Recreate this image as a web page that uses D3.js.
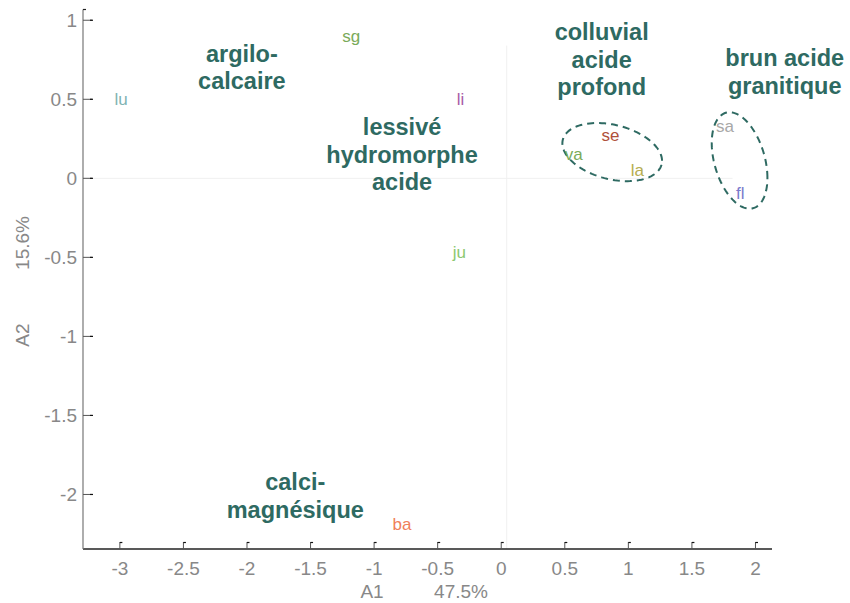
<!DOCTYPE html>
<html>
<head>
<meta charset="utf-8">
<script src="https://cdn.jsdelivr.net/npm/d3@7"></script>
<style>
  body { margin: 0; background: #fff; }
  svg { display: block; font-family: "Liberation Sans", Arial, Helvetica, sans-serif; }
</style>
</head>
<body>
<div id="chart"></div>
<script>
// sites (row scores on the two first axes)
const sites = ["lu", "sg", "li", "ju", "ba", "se", "va", "la", "sa", "fl"];
const scoreA1 = [-2.99, -1.18, -0.32, -0.33, -0.78, 0.86, 0.57, 1.07, 1.76, 1.88];
const scoreA2 = [0.50, 0.90, 0.50, -0.465, -2.19, 0.274, 0.154, 0.053, 0.33, -0.093];
const siteColors = ["#7fb3b3", "#7aaa5a", "#a85aa8", "#8cc870", "#f0805a",
                    "#b0503a", "#7aab5a", "#b5ad50", "#a8a8a8", "#7a7acc"];

// soil groups : label lines + anchor (data units)
const groupLines = [["argilo-", "calcaire"], ["lessivé", "hydromorphe", "acide"],
                    ["colluvial", "acide", "profond"], ["brun acide", "granitique"],
                    ["calci-", "magnésique"]];
const groupA1 = [-2.04, -0.78, 0.79, 2.23, -1.62];
const groupA2 = [0.79, 0.325, 0.926, 0.76, -1.92];

// dispersion ellipses : centre, half-extent on each axis, correlation
const ellCx = [0.873, 1.875];
const ellCy = [0.166, 0.113];
const ellSx = [0.392, 0.219];
const ellSy = [0.184, 0.305];
const ellRho = [-0.30, -0.36];

const xTicks = [-3, -2.5, -2, -1.5, -1, -0.5, 0, 0.5, 1, 1.5, 2];
const yTicks = [1, 0.5, 0, -0.5, -1, -1.5, -2];
const inertia = ["47.5%", "15.6%"];

const width = 850, height = 603;
const x = d3.scaleLinear().domain([-3.29, 2.13]).range([83, 772]);
const y = d3.scaleLinear().domain([-2.345, 1.068]).range([549, 9.5]);

const svg = d3.select("#chart").append("svg")
  .attr("width", width)
  .attr("height", height);

// zero lines
svg.append("line")
  .attr("x1", x.range()[0]).attr("x2", x(1.82))
  .attr("y1", y(0)).attr("y2", y(0))
  .attr("stroke", "#f0f0f0").attr("stroke-width", 1);
svg.append("line")
  .attr("x1", x(0) + 5.5).attr("x2", x(0) + 5.5)
  .attr("y1", y(0.84)).attr("y2", y.range()[0])
  .attr("stroke", "#f0f0f0").attr("stroke-width", 1);

// axes
svg.append("line")
  .attr("x1", x.range()[0]).attr("x2", x.range()[1])
  .attr("y1", y.range()[0]).attr("y2", y.range()[0])
  .attr("stroke", "#222").attr("stroke-width", 1.5);
svg.append("line")
  .attr("x1", x.range()[0]).attr("x2", x.range()[0])
  .attr("y1", y.range()[0]).attr("y2", y.range()[1])
  .attr("stroke", "#777").attr("stroke-width", 1.2);
svg.append("line")
  .attr("x1", x.range()[0]).attr("x2", x.range()[0] + 3)
  .attr("y1", y.range()[1]).attr("y2", y.range()[1])
  .attr("stroke", "#222").attr("stroke-width", 1.2);

const xt = svg.append("g").selectAll("g")
  .data(xTicks)
  .join("g")
  .attr("transform", d => `translate(${x(d)},${y.range()[0]})`);
xt.append("line").attr("y2", -7).attr("stroke", "#555").attr("stroke-width", 1);
xt.append("line").attr("x1", 0).attr("x2", 2.5).attr("y1", -6.5).attr("y2", -6.5)
  .attr("stroke", "#111").attr("stroke-width", 1.2);
xt.append("text")
  .attr("y", 19).attr("dy", "0.35em")
  .attr("text-anchor", "middle")
  .attr("fill", "#888").attr("font-size", 19)
  .text(d => d);

const yt = svg.append("g").selectAll("g")
  .data(yTicks)
  .join("g")
  .attr("transform", d => `translate(${x.range()[0]},${y(d)})`);
yt.append("line").attr("x2", 9).attr("stroke", "#555").attr("stroke-width", 1);
yt.append("line").attr("x1", 7).attr("x2", 10).attr("stroke", "#111").attr("stroke-width", 1.2);
yt.append("text")
  .attr("x", -6).attr("dy", "0.35em")
  .attr("text-anchor", "end")
  .attr("fill", "#888").attr("font-size", 19)
  .text(d => d);

// axis titles
svg.append("text").attr("x", 372).attr("y", 591).attr("dy", "0.35em")
  .attr("text-anchor", "middle").attr("fill", "#888").attr("font-size", 19).text("A1");
svg.append("text").attr("x", 461).attr("y", 591).attr("dy", "0.35em")
  .attr("text-anchor", "middle").attr("fill", "#888").attr("font-size", 19).text(inertia[0]);
svg.append("text").attr("transform", "translate(22,335) rotate(-90)").attr("dy", "0.35em")
  .attr("text-anchor", "middle").attr("fill", "#888").attr("font-size", 19).text("A2");
svg.append("text").attr("transform", "translate(22,243) rotate(-90)").attr("dy", "0.35em")
  .attr("text-anchor", "middle").attr("fill", "#888").attr("font-size", 19).text(inertia[1]);

// ellipses
const steps = d3.range(0, 2 * Math.PI, Math.PI / 60);
const ellLine = d3.line().curve(d3.curveLinearClosed);
svg.append("g").selectAll("path")
  .data(ellCx.map((cx, i) => i))
  .join("path")
  .attr("d", i => ellLine(steps.map(t => [
    x(ellCx[i] + ellSx[i] * Math.cos(t)),
    y(ellCy[i] + ellSy[i] * (ellRho[i] * Math.cos(t) + Math.sqrt(1 - ellRho[i] ** 2) * Math.sin(t)))
  ])))
  .attr("fill", "none")
  .attr("stroke", "#2e6a62")
  .attr("stroke-width", 2)
  .attr("stroke-dasharray", "7,5");

// site labels
svg.append("g").selectAll("text")
  .data(sites)
  .join("text")
  .attr("x", (d, i) => x(scoreA1[i]))
  .attr("y", (d, i) => y(scoreA2[i]))
  .attr("dy", "0.35em")
  .attr("text-anchor", "middle")
  .attr("font-size", 17)
  .attr("fill", (d, i) => siteColors[i])
  .text(d => d);

// group labels
svg.append("g").selectAll("text")
  .data(groupLines)
  .join("text")
  .attr("x", (d, i) => x(groupA1[i]))
  .attr("y", (d, i) => y(groupA2[i]))
  .attr("text-anchor", "middle")
  .attr("font-size", 23.5)
  .attr("font-weight", "bold")
  .attr("fill", "#2e6a62")
  .selectAll("tspan")
  .data(d => d)
  .join("tspan")
  .attr("x", function () { return this.parentNode.getAttribute("x"); })
  .attr("dy", (d, j) => j === 0 ? "0.35em" : "1.17em")
  .text(d => d);
</script>
</body>
</html>
